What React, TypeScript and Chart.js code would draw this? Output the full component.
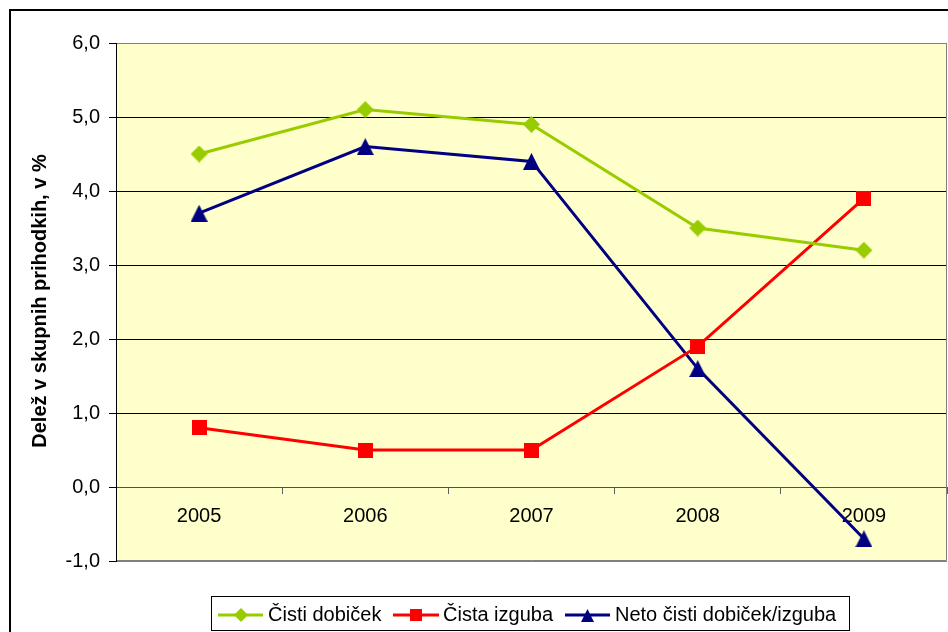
import React, { useEffect, useRef } from 'react';
import { Chart, registerables } from 'chart.js';

Chart.register(...registerables);

const years = ['2005', '2006', '2007', '2008', '2009'];
const cistiDobicek = [4.5, 5.1, 4.9, 3.5, 3.2];
const cistaIzguba = [0.8, 0.5, 0.5, 1.9, 3.9];
const netoDobicekIzguba = [3.7, 4.6, 4.4, 1.6, -0.7];
const seriesNames = ['Čisti dobiček', 'Čista izguba', 'Neto čisti dobiček/izguba'];
const seriesColors = ['#99CC00', '#FF0000', '#000080'];
const yMin = -1;
const yMax = 6;
const yStep = 1;
const yTitle = 'Delež v skupnih prihodkih, v %';

const FONT = '"Liberation Sans", Arial, sans-serif';

function makeMarker(shape: string, w: number, h: number, color: string) {
  const c = document.createElement('canvas');
  c.width = w;
  c.height = h;
  const g = c.getContext('2d')!;
  g.fillStyle = color;
  g.beginPath();
  if (shape === 'diamond') {
    g.moveTo(w / 2, 0);
    g.lineTo(w, h / 2);
    g.lineTo(w / 2, h);
    g.lineTo(0, h / 2);
  } else if (shape === 'square') {
    g.rect(0, 0, w, h);
  } else {
    g.moveTo(w / 2, 0);
    g.lineTo(w, h);
    g.lineTo(0, h);
  }
  g.closePath();
  g.fill();
  return c;
}

export default function App() {
  const ref = useRef<HTMLCanvasElement | null>(null);

  useEffect(() => {
    document.body.style.margin = '0';
    const canvas = ref.current!;
    const markers = [
      makeMarker('diamond', 17, 17, seriesColors[0]),
      makeMarker('square', 15, 15, seriesColors[1]),
      makeMarker('triangle', 17, 17, seriesColors[2]),
    ];
    const legendMarkers = [
      makeMarker('diamond', 14, 14, seriesColors[0]),
      makeMarker('square', 12, 12, seriesColors[1]),
      makeMarker('triangle', 13, 13, seriesColors[2]),
    ];

    const decor = {
      id: 'decor',
      beforeDraw(chart: any) {
        const { ctx, chartArea: a } = chart;
        ctx.save();
        ctx.fillStyle = '#FFFFFF';
        ctx.fillRect(0, 0, chart.width, chart.height);
        ctx.fillStyle = '#FFFFCC';
        ctx.fillRect(a.left, a.top, a.right - a.left, a.bottom - a.top);
        ctx.restore();
      },
      beforeDatasetsDraw(chart: any) {
        const { ctx, chartArea: a } = chart;
        ctx.save();
        ctx.strokeStyle = '#808080';
        ctx.lineWidth = 1;
        ctx.beginPath();
        ctx.moveTo(a.left, a.top + 0.5);
        ctx.lineTo(a.right - 0.5, a.top + 0.5);
        ctx.lineTo(a.right - 0.5, a.bottom - 0.5);
        ctx.lineTo(a.left, a.bottom - 0.5);
        ctx.stroke();
        ctx.strokeStyle = '#000000';
        ctx.beginPath();
        ctx.moveTo(a.left + 0.5, a.top);
        ctx.lineTo(a.left + 0.5, a.bottom);
        ctx.stroke();
        ctx.restore();
      },
      afterDraw(chart: any) {
        const { ctx } = chart;
        ctx.save();
        // outer chart border
        ctx.strokeStyle = '#000000';
        ctx.lineWidth = 2;
        ctx.strokeRect(10, 10, 2000, 2000);
        // y axis title
        ctx.translate(40, 301);
        ctx.rotate(-Math.PI / 2);
        ctx.fillStyle = '#000000';
        ctx.font = 'bold 20px ' + FONT;
        ctx.textAlign = 'center';
        ctx.textBaseline = 'middle';
        ctx.fillText(yTitle, 0, 0);
        ctx.restore();

        // legend
        ctx.save();
        ctx.fillStyle = '#FFFFFF';
        ctx.fillRect(211.5, 596.5, 638, 34);
        ctx.strokeStyle = '#000000';
        ctx.lineWidth = 1;
        ctx.strokeRect(211.5, 596.5, 638, 34);
        const lineStarts = [218, 393, 565];
        const lineEnds = [263, 439, 610];
        const textX = [268, 443, 615];
        const ly = 615;
        ctx.font = '20px ' + FONT;
        ctx.textAlign = 'left';
        ctx.textBaseline = 'alphabetic';
        for (let i = 0; i < 3; i++) {
          ctx.strokeStyle = seriesColors[i];
          ctx.lineWidth = 3;
          ctx.beginPath();
          ctx.moveTo(lineStarts[i], ly);
          ctx.lineTo(lineEnds[i], ly);
          ctx.stroke();
          const m = legendMarkers[i];
          const cx = (lineStarts[i] + lineEnds[i]) / 2;
          ctx.drawImage(m, Math.round(cx - m.width / 2), Math.round(ly - m.height / 2));
          ctx.fillStyle = '#000000';
          ctx.fillText(seriesNames[i], textX[i], 621);
        }
        ctx.restore();
      },
    };

    const chart = new Chart(canvas, {
      type: 'line',
      data: {
        labels: years,
        datasets: [cistiDobicek, cistaIzguba, netoDobicekIzguba].map((d, i) => ({
          label: seriesNames[i],
          data: d,
          borderColor: seriesColors[i],
          backgroundColor: seriesColors[i],
          borderWidth: 3,
          tension: 0,
          fill: false,
          pointStyle: markers[i] as any,
          pointRadius: 8,
          pointHoverRadius: 8,
          clip: false as any,
        })),
      },
      options: {
        responsive: false,
        animation: false,
        events: [],
        layout: { autoPadding: false, padding: { left: 0, top: 43, right: 1, bottom: 71 } },
        plugins: {
          legend: { display: false },
          tooltip: { enabled: false },
          title: { display: false },
        },
        scales: {
          x: {
            type: 'category',
            offset: true,
            position: { y: 0 } as any,
            afterFit: (scale: any) => {
              scale.paddingLeft = 0;
              scale.paddingRight = 0;
              scale.paddingTop = 0;
              scale.paddingBottom = 0;
            },
            grid: {
              display: true,
              drawOnChartArea: false,
              drawTicks: true,
              tickLength: 6,
              offset: true,
              color: '#606060',
            },
            border: { display: true, color: '#505050', width: 1 },
            ticks: {
              color: '#000000',
              font: { family: FONT, size: 20 },
              padding: 11,
              maxRotation: 0,
              autoSkip: false,
            },
          },
          y: {
            min: yMin,
            max: yMax,
            afterFit: (scale: any) => {
              scale.width = 116;
              scale.paddingTop = 0;
              scale.paddingBottom = 0;
            },
            grid: {
              color: (c: any) =>
                c.tick && (c.tick.value === yMax || c.tick.value === yMin)
                  ? '#808080'
                  : c.tick && c.tick.value === 0
                  ? '#505050'
                  : '#000000',
              tickColor: '#000000',
              tickLength: 7,
              drawTicks: true,
            },
            border: { display: true, color: '#000000', width: 1 },
            ticks: {
              stepSize: yStep,
              color: '#000000',
              font: { family: FONT, size: 20 },
              padding: 9,
              callback: (v: any) => Number(v).toFixed(1).replace('.', ','),
            },
          },
        },
      },
      plugins: [decor],
    });

    return () => {
      chart.destroy();
    };
  }, []);

  return (
    <div style={{ width: 948, height: 632 }}>
      <canvas ref={ref} width={948} height={632} style={{ display: 'block', width: 948, height: 632 }} />
    </div>
  );
}
